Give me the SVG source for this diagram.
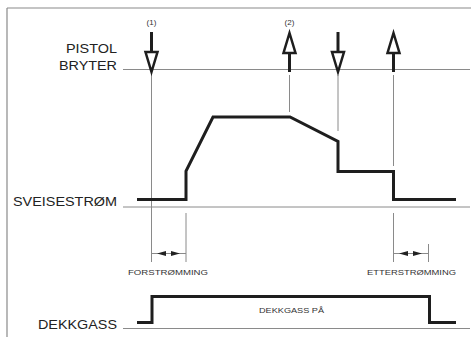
<svg xmlns="http://www.w3.org/2000/svg" width="473" height="337" viewBox="0 0 473 337">
<style>
.frame{stroke:#8a8a8a;stroke-width:1.2;fill:none}
.thin{stroke:#8a8a8a;stroke-width:1;fill:none}
.wave{stroke:#1e1e1e;stroke-width:3;fill:none;stroke-linejoin:miter}
.shaft{stroke:#1e1e1e;stroke-width:3;fill:none}
.head{stroke:#1e1e1e;stroke-width:2.5;fill:#fff;stroke-linejoin:miter}
.lbl{font-family:"Liberation Sans",Arial,sans-serif;fill:#222;font-size:13px}
.sm{font-family:"Liberation Sans",Arial,sans-serif;fill:#333;font-size:8px}
.dim{fill:#222}
</style>
<rect width="473" height="337" fill="#fff"/>
<g id="frame">
<path class="frame" d="M7,8 H471 M7,8 V337"/>
</g>
<g id="axes">
<path class="thin" d="M123,69.5 H470 M123,207 H470 M123,328.5 H470"/>
</g>
<g id="labels">
<text class="lbl" x="117" y="53" text-anchor="end" textLength="51" lengthAdjust="spacingAndGlyphs">PISTOL</text>
<text class="lbl" x="117" y="70" text-anchor="end" textLength="58" lengthAdjust="spacingAndGlyphs">BRYTER</text>
<text class="lbl" x="13" y="206" textLength="104" lengthAdjust="spacingAndGlyphs">SVEISESTRØM</text>
<text class="lbl" x="38" y="329" textLength="79" lengthAdjust="spacingAndGlyphs">DEKKGASS</text>
</g>
<g id="connectors">
<path class="thin" d="M151.5,75 V262 M186,213 V262 M289.5,75 V112 M338,75 V131 M393.5,75 V166 M393.5,213 V262 M428.5,244 V262"/>
</g>
<g id="arrow1">
<text class="sm" x="151.5" y="25" text-anchor="middle" font-size="7">(1)</text>
<path class="shaft" d="M151.5,32 V52"/>
<path class="head" d="M145.5,52 H157.5 L151.5,72 Z"/>
</g>
<g id="arrow2">
<text class="sm" x="289.5" y="25" text-anchor="middle" font-size="7">(2)</text>
<path class="head" d="M289.5,33 L295.5,53 H283.5 Z"/>
<path class="shaft" d="M289.5,53 V72"/>
</g>
<g id="arrow3">
<path class="shaft" d="M338,32 V52"/>
<path class="head" d="M332,52 H344 L338,72 Z"/>
</g>
<g id="arrow4">
<path class="head" d="M393.5,33 L399.5,53 H387.5 Z"/>
<path class="shaft" d="M393.5,53 V72"/>
</g>
<g id="sveisestrom">
<path class="wave" d="M137,199.5 H186 V171 L213,117 H290 L338,141.5 V171.5 H393.5 V199.5 H456"/>
</g>
<g id="dekkgass">
<path class="wave" d="M137,322.5 H152 V296.5 H429.5 V322.5 H456"/>
<text class="sm" x="291.5" y="313" text-anchor="middle" textLength="65" lengthAdjust="spacingAndGlyphs">DEKKGASS PÅ</text>
</g>
<g id="forstromming">
<path class="thin" d="M151.5,253.5 H186" stroke="#222"/>
<path class="dim" d="M157,253.5 L166,251 V256 Z M180,253.5 L171,251 V256 Z"/>
<text class="sm" x="168" y="275" text-anchor="middle" textLength="80" lengthAdjust="spacingAndGlyphs">FORSTRØMMING</text>
</g>
<g id="etterstromming">
<path class="thin" d="M393.5,253.5 H428.5" stroke="#222"/>
<path class="dim" d="M399,253.5 L408,251 V256 Z M422,253.5 L413,251 V256 Z"/>
<text class="sm" x="411.5" y="275" text-anchor="middle" textLength="89" lengthAdjust="spacingAndGlyphs">ETTERSTRØMMING</text>
</g>
</svg>
